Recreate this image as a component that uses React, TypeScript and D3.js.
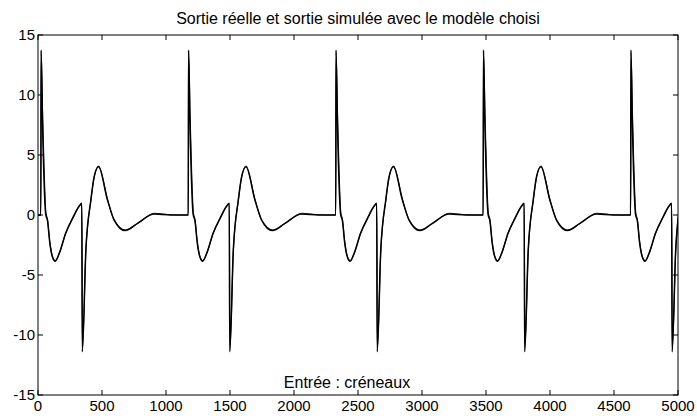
import React from "react";
import * as d3 from "d3";

// Step-up instants of the square-wave input (créneaux)
const cycleStarts = [22, 1174, 2326, 3478, 4630];

// Response over one cycle, offset from the step-up (simulated output)
const simOffsets = [0, 2, 13, 39, 52, 70, 91, 112, 144, 195, 248, 300, 320, 324, 352, 391, 417, 451, 521, 573, 659, 755, 886, 1016, 1150];
const simValues = [0, 13.75, 7.8, 0, -0.45, -2.3, -3.5, -3.85, -3.2, -1.5, -0.28, 0.75, 0.97, -11.4, -2.9, 1.25, 3.2, 4.03, 1.25, -0.42, -1.3, -0.7, 0.08, 0.0, 0.0];

// Measured output, over one cycle (nearly identical)
const realOffsets = [0, 3, 14, 40, 53, 70, 91, 113, 144, 195, 248, 300, 321, 325, 352, 391, 417, 452, 521, 573, 660, 755, 886, 1016, 1150];
const realValues = [0, 13.5, 8.6, 0.2, -0.4, -2.2, -3.45, -3.8, -3.2, -1.5, -0.3, 0.72, 0.95, -11.2, -3.0, 1.2, 3.15, 4.08, 1.3, -0.4, -1.25, -0.72, 0.15, 0.02, 0.0];

const xTicks = [0, 500, 1000, 1500, 2000, 2500, 3000, 3500, 4000, 4500, 5000];
const yTicks = [-15, -10, -5, 0, 5, 10, 15];

const title = "Sortie réelle et sortie simulée avec le modèle choisi";
const inputLabel = "Entrée : créneaux";

function buildSeries(offsets: number[], values: number[]): [number, number][] {
  const pts: [number, number][] = [[0, 0]];
  cycleStarts.forEach((s) => {
    offsets.forEach((o, i) => {
      pts.push([s + o, values[i]]);
    });
  });
  return pts;
}

export default function App() {
  const W = 697, H = 416;
  const left = 38, right = 678, top = 35, bottom = 395;
  const x = d3.scaleLinear().domain([0, 5000]).range([left, right]);
  const y = d3.scaleLinear().domain([-15, 15]).range([bottom, top]);
  const line = d3
    .line<[number, number]>()
    .x((d) => x(d[0]))
    .y((d) => y(d[1]))
    .curve(d3.curveMonotoneX);

  const sim = buildSeries(simOffsets, simValues);
  const real = buildSeries(realOffsets, realValues);
  const font = "'Liberation Sans', Arial, Helvetica, sans-serif";
  const tl = 5;

  return (
    <svg
      width={W}
      height={H}
      style={{ position: "absolute", left: 0, top: 0, background: "#fff" }}
      fontFamily={font}
    >
      <defs>
        <clipPath id="plotclip">
          <rect x={left} y={top} width={right - left} height={bottom - top} />
        </clipPath>
      </defs>
      <rect x={0} y={0} width={W} height={H} fill="#fff" />
      <text x={358} y={24} textAnchor="middle" fontSize={16} fill="#000">
        {title}
      </text>
      <g clipPath="url(#plotclip)">
        <path d={line(real) || ""} fill="none" stroke="#222" strokeWidth={1.1} />
        <path d={line(sim) || ""} fill="none" stroke="#000" strokeWidth={1.5} />
      </g>
      <rect x={left} y={top} width={right - left} height={bottom - top} fill="none" stroke="#000" strokeWidth={1} />
      {xTicks.map((t) => (
        <g key={"x" + t}>
          <line x1={x(t)} x2={x(t)} y1={bottom} y2={bottom - tl} stroke="#000" />
          <line x1={x(t)} x2={x(t)} y1={top} y2={top + tl} stroke="#000" />
          <text x={x(t)} y={411} textAnchor="middle" fontSize={15} fill="#000">
            {t}
          </text>
        </g>
      ))}
      {yTicks.map((t) => (
        <g key={"y" + t}>
          <line x1={left} x2={left + tl} y1={y(t)} y2={y(t)} stroke="#000" />
          <line x1={right} x2={right - tl} y1={y(t)} y2={y(t)} stroke="#000" />
          <text x={35} y={y(t)} dy="0.36em" textAnchor="end" fontSize={15} fill="#000">
            {t}
          </text>
        </g>
      ))}
      <text x={347} y={388} textAnchor="middle" fontSize={16} fill="#000">
        {inputLabel}
      </text>
    </svg>
  );
}
